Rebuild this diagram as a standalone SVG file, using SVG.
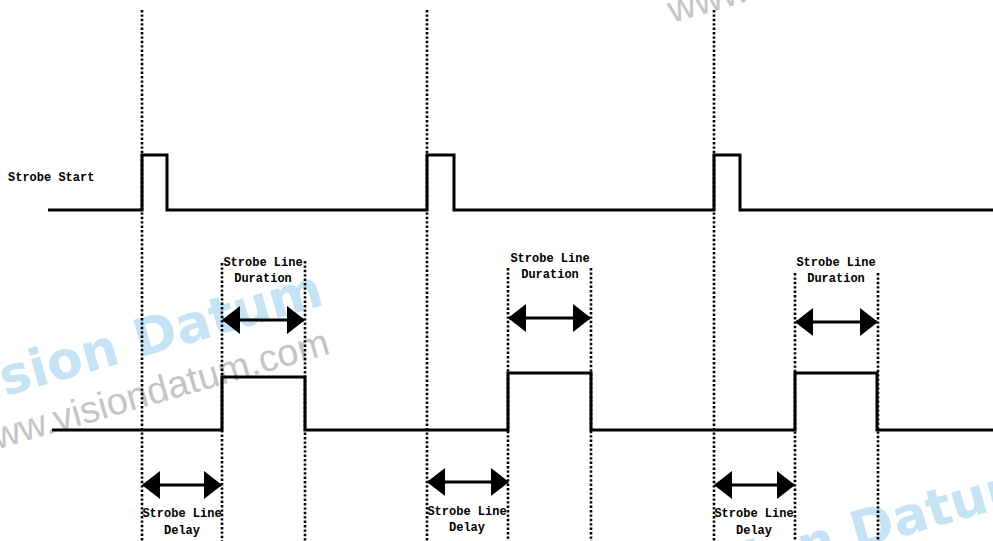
<svg xmlns="http://www.w3.org/2000/svg" xmlns:xlink="http://www.w3.org/1999/xlink" width="993" height="541" viewBox="0 0 993 541">
<style>
.wave{fill:none;stroke:#000;stroke-width:3;stroke-linejoin:miter}
.dot{fill:none;stroke:#000;stroke-width:2.6;stroke-dasharray:2.4 2}
.arr{fill:none;stroke:#000;stroke-width:3}
.lbl{font-family:"Liberation Mono","DejaVu Sans Mono",monospace;font-weight:bold;font-size:12px;fill:#000}
.c{text-anchor:middle}
.wmb{font-family:"DejaVu Sans",sans-serif;font-weight:bold;font-size:52px;fill:#c6e3f6}
.wmg{font-family:"Liberation Sans",Arial,sans-serif;font-size:38px;fill:#c4c4c4}
</style>
<defs>
<marker id="ah" markerUnits="userSpaceOnUse" markerWidth="18" markerHeight="28" viewBox="0 0 18 28" refX="17" refY="14" orient="auto-start-reverse">
<path d="M0,0 L18,14 L0,28 Z" fill="#000"/>
</marker>
<g id="wm">
<text class="wmb" transform="translate(-50,412) rotate(-16)">Vision Datum</text>
<text class="wmg" transform="translate(-30,457) rotate(-16)">www.visiondatum.com</text>
</g>
</defs>
<g id="watermark">
<use xlink:href="#wm"/>
<use xlink:href="#wm" transform="translate(717,192)"/>
<use xlink:href="#wm" transform="translate(702,-434)"/>
</g>
<g id="guides">
<line class="dot" x1="142" y1="10" x2="142" y2="541"/>
<line class="dot" x1="427" y1="10" x2="427" y2="541"/>
<line class="dot" x1="714" y1="10" x2="714" y2="541"/>
<line class="dot" x1="222" y1="263" x2="222" y2="541"/>
<line class="dot" x1="305" y1="261" x2="305" y2="541"/>
<line class="dot" x1="508" y1="268" x2="508" y2="541"/>
<line class="dot" x1="591" y1="268" x2="591" y2="541"/>
<line class="dot" x1="795" y1="273" x2="795" y2="541"/>
<line class="dot" x1="878" y1="273" x2="878" y2="541"/>
</g>
<g id="strobe-start">
<text class="lbl" x="8" y="181">Strobe Start</text>
<path class="wave" d="M48,210 H142 V155 H167 V210 H427 V155 H454 V210 H714 V155 H740 V210 H993"/>
</g>
<g id="strobe-line">
<path class="wave" d="M52,430 H222 V377 H305 V430 H508 V373 H591 V430 H795 V373 H877 V430 H993"/>
</g>
<g id="connectors">
<line class="arr" x1="223" y1="320" x2="304" y2="320" marker-start="url(#ah)" marker-end="url(#ah)"/>
<line class="arr" x1="509" y1="318" x2="590" y2="318" marker-start="url(#ah)" marker-end="url(#ah)"/>
<line class="arr" x1="796" y1="322" x2="877" y2="322" marker-start="url(#ah)" marker-end="url(#ah)"/>
<line class="arr" x1="143" y1="485" x2="221" y2="485" marker-start="url(#ah)" marker-end="url(#ah)"/>
<line class="arr" x1="428" y1="482" x2="508" y2="482" marker-start="url(#ah)" marker-end="url(#ah)"/>
<line class="arr" x1="715" y1="485" x2="794" y2="485" marker-start="url(#ah)" marker-end="url(#ah)"/>
</g>
<g id="duration-1">
<text class="lbl c" x="263" y="266">Strobe Line</text>
<text class="lbl c" x="263" y="282">Duration</text>
</g>
<g id="duration-2">
<text class="lbl c" x="550" y="262">Strobe Line</text>
<text class="lbl c" x="550" y="278">Duration</text>
</g>
<g id="duration-3">
<text class="lbl c" x="836" y="266">Strobe Line</text>
<text class="lbl c" x="836" y="282">Duration</text>
</g>
<g id="delay-1">
<text class="lbl c" x="182" y="517">Strobe Line</text>
<text class="lbl c" x="182" y="534">Delay</text>
</g>
<g id="delay-2">
<text class="lbl c" x="467" y="515">Strobe Line</text>
<text class="lbl c" x="467" y="531">Delay</text>
</g>
<g id="delay-3">
<text class="lbl c" x="754" y="517">Strobe Line</text>
<text class="lbl c" x="754" y="534">Delay</text>
</g>
</svg>
